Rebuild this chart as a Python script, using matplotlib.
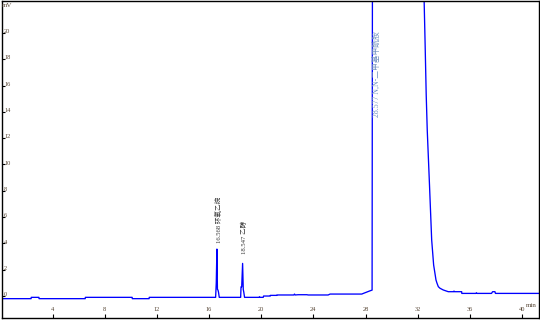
import matplotlib
matplotlib.use("Agg")
import matplotlib.pyplot as plt
import matplotlib.transforms as mtransforms

# ---- data ----
time_min = [0.1, 2.35, 2.36, 2.95, 2.96, 6.5, 6.51, 10.1, 10.11, 11.4, 11.41,
            16.5, 16.55, 16.6, 16.64, 16.68, 16.72, 16.78,
            18.42, 18.45, 18.5, 18.57, 18.62, 18.66, 18.72,
            19.85, 19.87, 19.9, 20.15, 20.18, 20.69, 20.7, 21.2, 21.21,
            22.5, 22.55, 22.6, 22.83, 23.5, 23.6, 25.13, 25.28,
            27.71, 27.83, 28.09, 28.35, 28.5, 28.55, 32.4,
            32.49, 32.57, 32.65, 32.73, 32.9, 33.07, 33.15, 33.22, 33.32,
            33.40, 33.48, 33.58, 33.71, 33.96, 34.34, 34.76, 34.78, 34.82,
            35.37, 35.38, 36.46, 36.5, 36.55, 37.66, 37.74, 37.92, 37.96, 41.3]
signal_mv = [-0.2, -0.2, -0.1, -0.1, -0.2, -0.2, -0.1, -0.1, -0.2, -0.2, -0.1,
             -0.1, 1.0, 3.57, 0.5, 0.46, 0.3, -0.1,
             -0.1, 0.7, 0.7, 2.48, 0.5, 0.3, -0.1,
             -0.1, -0.05, -0.1, -0.1, 0.0, 0.0, 0.05, 0.05, 0.08,
             0.08, 0.15, 0.08, 0.1, 0.1, 0.08, 0.08, 0.15,
             0.15, 0.2, 0.3, 0.4, 0.45, 45.0, 45.0,
             22.5, 19.0, 15.3, 12.6, 8.5, 4.26, 3.25, 2.36, 1.73,
             1.22, 0.97, 0.71, 0.59, 0.46, 0.33, 0.33, 0.38, 0.33,
             0.33, 0.2, 0.2, 0.25, 0.2, 0.2, 0.33, 0.33, 0.2, 0.2]

peak_times = [16.71, 18.65, 28.84]
peak_label_base = [4.0, 3.2, 13.6]
peak_labels = ["16.568 环氧乙烷", "18.547 乙醇", "28.577 N,N-二甲基甲酰胺"]

x_ticks = [4, 8, 12, 16, 20, 24, 28, 32, 36, 40]
y_ticks = [0, 2, 4, 6, 8, 10, 12, 14, 16, 18, 20]

fam = ["Liberation Serif", "Noto Sans CJK SC"]
plt.rcParams["font.family"] = fam

fig = plt.figure(figsize=(5.4, 3.2), dpi=100)
ax = fig.add_axes([1.5 / 540, 2 / 320, 537.5 / 540, 317 / 320])
ax.plot(time_min, signal_mv, color="#0000ff", lw=0.95)
ax.set_xlim(0.08, 41.3)
ax.set_ylim(-1.67, 22.43)

for s in ax.spines.values():
    s.set_color("black")
    s.set_linewidth(1.0)

ax.set_xticks(x_ticks)
ax.set_yticks(y_ticks)
ax.tick_params(axis="x", direction="in", length=3, width=0.8, labelbottom=False)
ax.tick_params(axis="y", direction="in", length=2, width=0.8, labelleft=False)

tc = "#554433"
xt = mtransforms.blended_transform_factory(ax.transData, ax.transAxes)
for t in x_ticks:
    ax.text(t, 0.028, str(t), transform=xt, ha="center", va="center",
            fontsize=4.6, color=tc)
yt = mtransforms.blended_transform_factory(ax.transAxes, ax.transData)
for v in y_ticks:
    ax.text(0.005, v + 0.1, str(v), transform=yt, ha="left", va="center",
            fontsize=4.6, color=tc)

ax.text(0.0, 0.985, "mV", transform=ax.transAxes, ha="left", va="center",
        fontsize=5, color=tc)
ax.text(0.985, 0.04, "min", transform=ax.transAxes, ha="center", va="center",
        fontsize=5, color=tc)

sizes = [4.8, 4.8, 5.6]
colors = ["#333333", "#333333", "#6f8fc0"]
for t, b, lab, fs, c in zip(peak_times, peak_label_base, peak_labels, sizes, colors):
    ax.text(t, b, lab, rotation=90, ha="center", va="bottom", fontsize=fs,
            color=c, clip_on=True, family=fam)

fig.savefig("out.png", dpi=100)
